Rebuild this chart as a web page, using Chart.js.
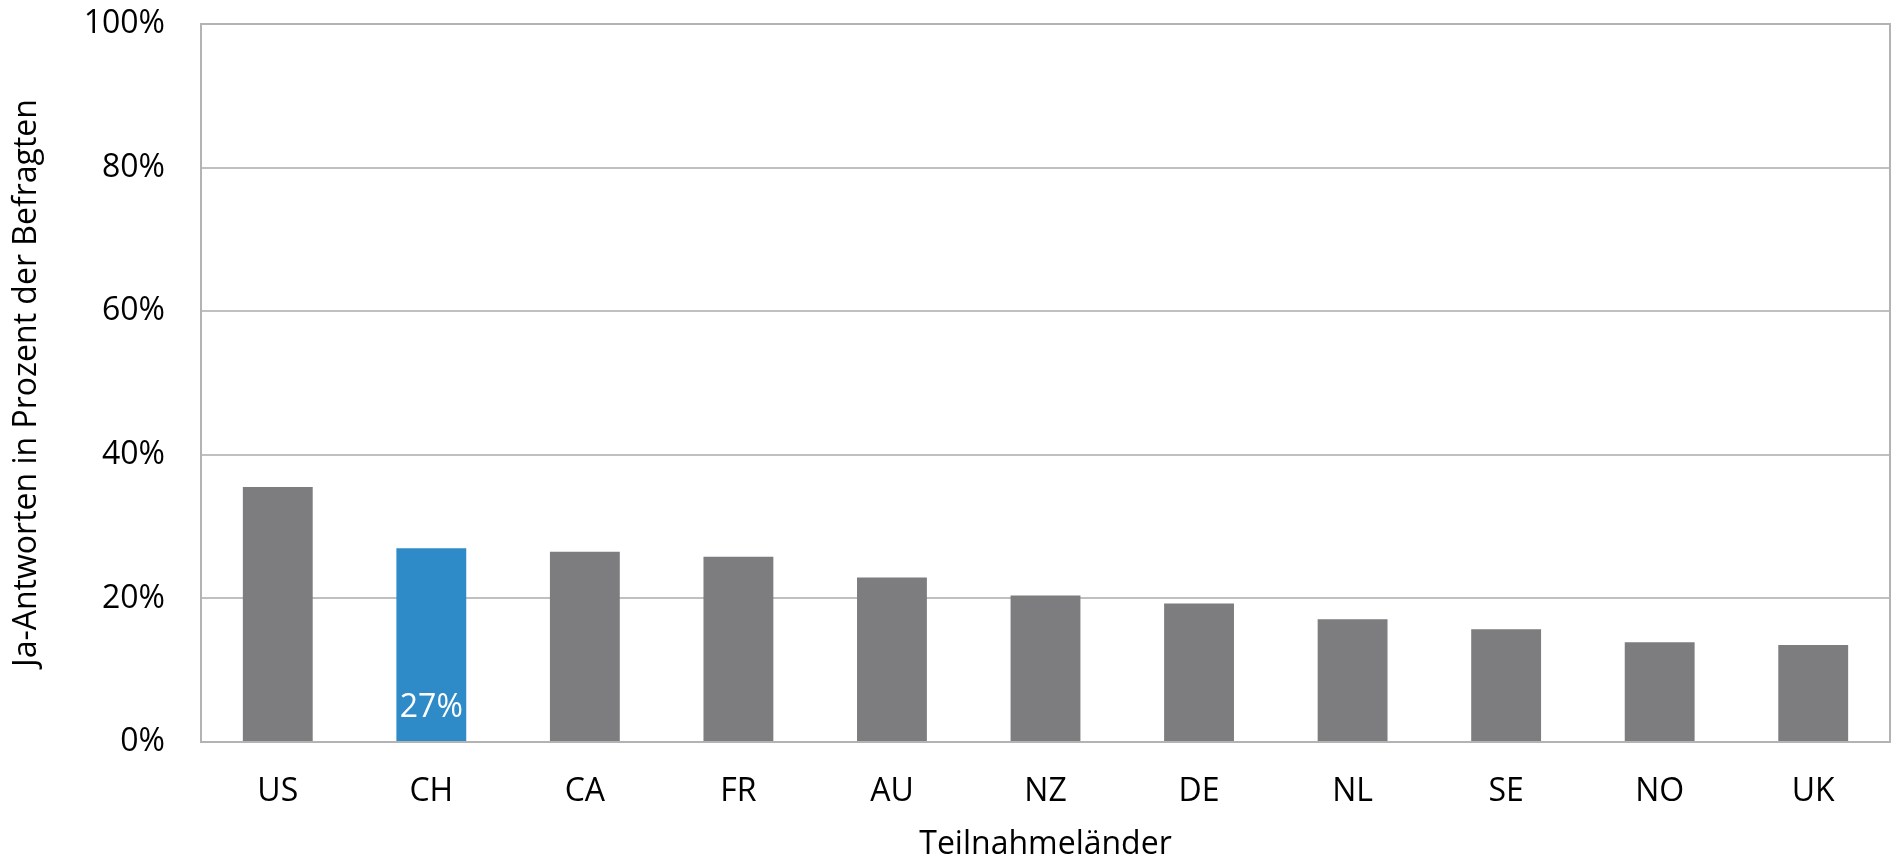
<!DOCTYPE html>
<html>
<head>
<meta charset="utf-8">
<script src="https://cdn.jsdelivr.net/npm/chart.js@4/dist/chart.umd.min.js"></script>
<style>
  html, body { margin: 0; padding: 0; background: #ffffff; }
  #wrap { width: 1896px; height: 857px; }
</style>
</head>
<body>
<div id="wrap"><canvas id="c" width="1896" height="857"></canvas></div>
<script>
// Survey countries and share of "yes" answers (percent of respondents)
const countries = ['US', 'CH', 'CA', 'FR', 'AU', 'NZ', 'DE', 'NL', 'SE', 'NO', 'UK'];
const yesShare = [35.5, 27, 26.5, 25.8, 22.9, 20.4, 19.3, 17.1, 15.7, 13.9, 13.5];
const highlighted = ['CH'];
const yTicks = [0, 20, 40, 60, 80, 100];

const GREY = '#7d7d7f';
const BLUE = '#2e8bc7';
const FONT = "'Open Sans', 'DejaVu Sans', sans-serif";

// Frame around the plotting area
const frame = {
  id: 'frame',
  afterDraw(chart) {
    const { ctx, chartArea: a } = chart;
    ctx.save();
    ctx.strokeStyle = '#b3b3b3';
    ctx.lineWidth = 2;
    ctx.strokeRect(a.left, a.top, a.right - a.left, a.bottom - a.top);
    ctx.restore();
  }
};

// Value label at the foot of highlighted bars
const footLabels = {
  id: 'footLabels',
  afterDatasetsDraw(chart) {
    const { ctx } = chart;
    const meta = chart.getDatasetMeta(0);
    ctx.save();
    ctx.fillStyle = '#ffffff';
    ctx.font = '32px ' + FONT;
    ctx.textAlign = 'center';
    ctx.textBaseline = 'middle';
    meta.data.forEach((bar, i) => {
      if (!highlighted.includes(countries[i])) return;
      ctx.fillText(Math.round(yesShare[i]) + '%', bar.x, bar.base - 33);
    });
    ctx.restore();
  }
};

new Chart(document.getElementById('c'), {
  type: 'bar',
  data: {
    labels: countries,
    datasets: [{
      data: yesShare,
      backgroundColor: countries.map(c => highlighted.includes(c) ? BLUE : GREY),
      borderWidth: 0,
      barPercentage: 0.455,
      categoryPercentage: 1.0
    }]
  },
  options: {
    responsive: false,
    animation: false,
    devicePixelRatio: 1,
    layout: { padding: { left: 0, right: 6, top: 24, bottom: 0 } },
    plugins: { legend: { display: false }, tooltip: { enabled: false } },
    scales: {
      x: {
        grid: { display: false, drawTicks: false },
        border: { display: false },
        ticks: { color: '#000000', font: { family: FONT, size: 32 }, padding: 31, maxRotation: 0 },
        title: {
          display: true,
          text: 'Teilnahmeländer',
          color: '#000000',
          font: { family: FONT, size: 32, lineHeight: 0.75 },
          padding: { top: 0, bottom: 0 }
        },
        afterFit(scale) { scale.height = 857 - 742; scale.paddingLeft = 0; scale.paddingRight = 0; }
      },
      y: {
        min: 0,
        max: 100,
        afterBuildTicks(scale) { scale.ticks = yTicks.map(v => ({ value: v })); },
        grid: { color: '#c0c0c0', lineWidth: 2, drawTicks: false },
        border: { display: false },
        ticks: {
          color: '#000000',
          font: { family: FONT, size: 32 },
          padding: 36,
          callback: v => v + '%'
        },
        title: {
          display: true,
          text: 'Ja-Antworten in Prozent der Befragten',
          color: '#000000',
          font: { family: FONT, size: 32, lineHeight: 1 },
          padding: { top: 11, bottom: 0 }
        },
        afterFit(scale) { scale.width = 201; scale.paddingTop = 0; scale.paddingBottom = 0; }
      }
    }
  },
  plugins: [frame, footLabels]
});
</script>
</body>
</html>
